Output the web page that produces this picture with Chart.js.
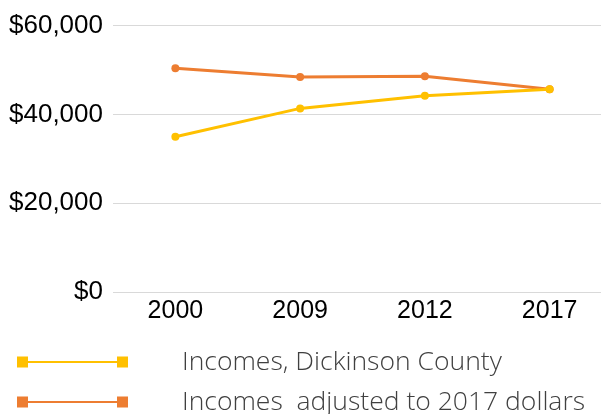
<!DOCTYPE html>
<html>
<head>
<meta charset="utf-8">
<script src="https://cdn.jsdelivr.net/npm/chart.js@4/dist/chart.umd.min.js"></script>
<style>
html,body{margin:0;padding:0;overflow:hidden;background:#fff;width:601px;height:414px;}
#wrap{position:absolute;left:0;top:0;width:616px;height:414px;}
</style>
</head>
<body>
<div id="wrap"><canvas id="c" width="616" height="414"></canvas></div>
<script>
const categories = ['2000', '2009', '2012', '2017'];
const countyIncomes = [34950, 41350, 44200, 45640];
const adjustedIncomes = [50370, 48410, 48570, 45640];
const seriesNames = ['Incomes, Dickinson County', 'Incomes  adjusted to 2017 dollars'];
const yTicks = [0, 20000, 40000, 60000];

const colors = ['#FFC000', '#ED7D31'];

const legendPlugin = {
  id: 'customLegend',
  afterDraw(chart) {
    const ctx = chart.ctx;
    const rows = [362, 402];
    chart.data.datasets.forEach((ds, i) => {
      const y = rows[i];
      ctx.save();
      ctx.strokeStyle = ds.borderColor;
      ctx.lineWidth = 2;
      ctx.beginPath();
      ctx.moveTo(22, y);
      ctx.lineTo(122, y);
      ctx.stroke();
      ctx.fillStyle = ds.borderColor;
      ctx.fillRect(17, y - 5.5, 11, 11);
      ctx.fillRect(117, y - 5.5, 11, 11);
      ctx.fillStyle = '#404040';
      ctx.font = '300 26.5px "Open Sans"';
      ctx.textBaseline = 'middle';
      ctx.textAlign = 'left';
      ctx.fillText(ds.label, 182, y);
      ctx.restore();
    });
  }
};

new Chart(document.getElementById('c'), {
  type: 'line',
  data: {
    labels: categories,
    datasets: [
      {label: seriesNames[0], data: countyIncomes, borderColor: colors[0], backgroundColor: colors[0],
       borderWidth: 3, pointRadius: 4, pointBorderWidth: 0, tension: 0},
      {label: seriesNames[1], data: adjustedIncomes, borderColor: colors[1], backgroundColor: colors[1],
       borderWidth: 3, pointRadius: 4, pointBorderWidth: 0, tension: 0}
    ]
  },
  options: {
    responsive: false,
    animation: false,
    layout: {padding: {top: 25, left: 0, right: 0, bottom: 72}},
    plugins: {legend: {display: false}, tooltip: {enabled: false}},
    scales: {
      x: {
        offset: true,
        grid: {display: false, drawTicks: false},
        border: {display: false},
        ticks: {color: '#000', font: {family: '"Liberation Sans", Arial', size: 25}, padding: 4, maxRotation: 0},
        afterFit(s) { s.height = 50; }
      },
      y: {
        min: 0, max: 60000,
        afterBuildTicks(s) { s.ticks = yTicks.map(v => ({value: v})); },
        grid: {color: '#d9d9d9', lineWidth: 1, drawTicks: false},
        border: {display: false},
        ticks: {color: '#000', font: {family: '"Liberation Sans", Arial', size: 26}, padding: 10,
          callback: v => '$' + v.toLocaleString('en-US')},
        afterFit(s) { s.width = 113; }
      }
    }
  },
  plugins: [legendPlugin]
});
</script>
</body>
</html>
